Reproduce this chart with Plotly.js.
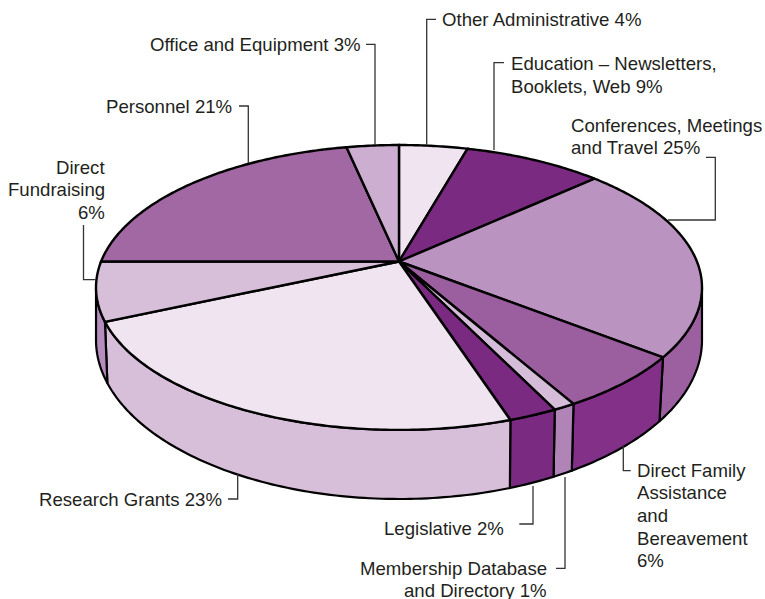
<!DOCTYPE html>
<html><head><meta charset="utf-8">
<script src="https://cdn.plot.ly/plotly-3.0.1.min.js"></script>
<style>html,body{margin:0;padding:0;background:#fff}#c{width:765px;height:599px}</style>
</head><body><div id="c"></div>
<script>
// Categories clockwise from the top of the pie
const categories = ["Other Administrative","Education","Conferences","Direct Family","Membership","Legislative","Research Grants","Direct Fundraising","Personnel","Office and Equipment"];
const labelledPercent = [4,9,25,6,1,2,23,6,21,3];
// Share of the circle each wedge really occupies in the picture
const drawnShare = [4.36,8.84,22.4,6.2,1.0,2.2,23.35,6.65,21.67,3.33];
const topColors  = ["#efe4f0","#7b2a82","#bb93c0","#9b5fa0","#d5bcd9","#7b2a82","#efe4f0","#d7bfda","#a268a3","#ccaed0"];
const wallColors = ["#efe4f0","#7b2a82","#9c60a1","#823088","#b184b8","#7b2a82","#d7bfda","#b58cbd","#a268a3","#ccaed0"];

const labelLines = [
 ["Other Administrative "+labelledPercent[0]+"%"],
 ["Education – Newsletters,","Booklets, Web "+labelledPercent[1]+"%"],
 ["Conferences, Meetings","and Travel "+labelledPercent[2]+"%"],
 ["Direct Family","Assistance","and","Bereavement",labelledPercent[3]+"%"],
 ["Membership Database","and Directory "+labelledPercent[4]+"%"],
 ["Legislative "+labelledPercent[5]+"%"],
 ["Research Grants "+labelledPercent[6]+"%"],
 ["Direct","Fundraising",labelledPercent[7]+"%"],
 ["Personnel "+labelledPercent[8]+"%"],
 ["Office and Equipment "+labelledPercent[9]+"%"]
];
// label anchor: x, y of the first line's middle, xanchor
const labelX = [441,509.5,569.5,636,548,505,223,106,233,362];
const labelY = [19.5,63.5,125,470,568,528,499,167,106,44];
const labelAlign = ["left","left","left","left","right","right","right","right","right","right"];
const lineStep = 22.7;
// leader polylines
const leaderX = [[436,426.7,426.7],[504,494,494],[706,715.3,715.3,668],[623.3,623.3,630.7],[565,565,556],[533,533,519.3],[237.7,237.7,228],[83.5,83.5,96],[239,248.3,248.3],[366,375,375]];
const leaderY = [[19.3,19.3,145],[62.7,62.7,150],[157.3,157.3,220,220],[446,470.7,470.7],[477,568.3,568.3],[486,524,524],[474,499,499],[225,279.7,279.7],[106,106,163],[44.3,44.3,145]];

// geometry of the drawing
const cx=399, apexY=261.5, k=0.1824, A=297.9, B=137.7;
const cy=287.5, rx=303, ry=142.5, lowCy=340, lowRy=159;

function rimPoint(share){ // projected point of a position on the circle
  const t=share/100*2*Math.PI, X=Math.sin(t), Y=Math.cos(t), w=1+k*Y;
  return [cx+A*X/w, apexY-B*Y/w];
}
function lowerPoint(p){ // wall foot below a rim point
  const c=Math.max(-1,Math.min(1,(p[0]-cx)/rx));
  let phi=Math.acos(c);
  const s=Math.sin(phi);
  phi+=0.035*c*c*c*Math.min(1,s/0.25);
  return [cx+rx*Math.cos(phi), lowCy+lowRy*Math.sin(phi)];
}
const traces=[];
function poly(xs,ys,fill,lw){
  traces.push({type:"scatter",mode:"lines",x:xs,y:ys,fill:"toself",fillcolor:fill,
    line:{color:"#000",width:lw,simplify:false},hoverinfo:"skip",showlegend:false});
}
// walls
let acc=0;
const starts=drawnShare.map(v=>{const s=acc;acc+=v;return s;});
drawnShare.forEach((v,i)=>{
  const a=starts[i], b=a+v, top=[], low=[];
  const n=Math.max(4,Math.round(v*4));
  for(let j=0;j<=n;j++){
    const p=rimPoint(a+(b-a)*j/n);
    if(p[1]>=cy-0.5){top.push(p);low.push(lowerPoint(p));}
  }
  if(top.length<2) return;
  const xs=top.map(p=>p[0]).concat(low.slice().reverse().map(p=>p[0]));
  const ys=top.map(p=>p[1]).concat(low.slice().reverse().map(p=>p[1]));
  xs.push(xs[0]); ys.push(ys[0]);
  poly(xs,ys,wallColors[i],2.2);
});
// wedges
drawnShare.forEach((v,i)=>{
  const a=starts[i], b=a+v, xs=[cx], ys=[apexY];
  const n=Math.max(6,Math.round(v*5));
  for(let j=0;j<=n;j++){const p=rimPoint(a+(b-a)*j/n);xs.push(p[0]);ys.push(p[1]);}
  xs.push(cx);ys.push(apexY);
  poly(xs,ys,topColors[i],2.4);
});
// leaders
leaderX.forEach((lx,i)=>{
  traces.push({type:"scatter",mode:"lines",x:lx,y:leaderY[i],line:{color:"#333",width:1.3},hoverinfo:"skip",showlegend:false});
});
const annotations=[];
labelLines.forEach((lines,i)=>lines.forEach((t,j)=>annotations.push({
  x:labelX[i],y:labelY[i]+j*lineStep,xref:"x",yref:"y",text:t,showarrow:false,
  xanchor:labelAlign[i],yanchor:"middle",align:labelAlign[i],xshift:0,borderpad:0,
  font:{family:"Liberation Sans, Arial, sans-serif",size:18.6,color:"#231f20"}
})));
Plotly.newPlot("c",traces,{
  width:765,height:599,margin:{l:0,r:0,t:0,b:0},paper_bgcolor:"#fff",plot_bgcolor:"#fff",showlegend:false,
  xaxis:{range:[0,765],visible:false,fixedrange:true},
  yaxis:{range:[599,0],visible:false,fixedrange:true},
  annotations
},{displayModeBar:false,staticPlot:true});
</script></body></html>
